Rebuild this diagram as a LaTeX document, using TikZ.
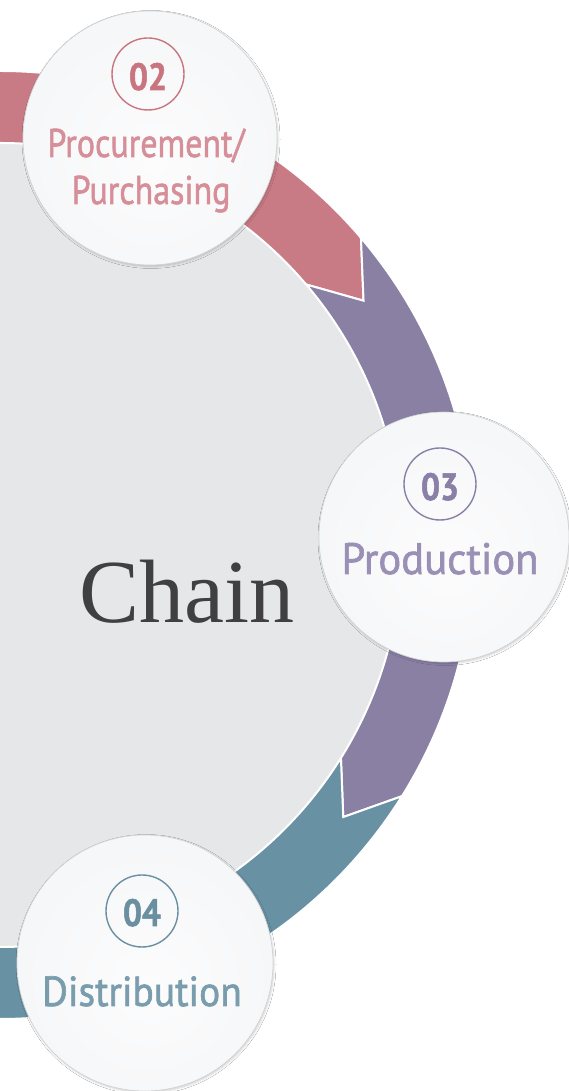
\documentclass[tikz,border=0pt]{standalone}
\usepackage{fontspec}
\usetikzlibrary{shadows.blur}
\newfontfamily\labelfont{PT Sans}[FakeBold=1.5]
\newfontfamily\hubfont{Liberation Serif}

\definecolor{ringred}{HTML}{C97B85}
\definecolor{ringpurple}{HTML}{8A80A4}
\definecolor{ringteal}{HTML}{6892A4}
\definecolor{txtred}{HTML}{D68F99}
\definecolor{numred}{HTML}{C9757F}
\definecolor{txtpurple}{HTML}{9A8FB5}
\definecolor{numpurple}{HTML}{8A7FA6}
\definecolor{txtteal}{HTML}{7A9DAE}
\definecolor{numteal}{HTML}{6A8FA0}
\definecolor{hub}{HTML}{E6E7E9}
\definecolor{hubtext}{HTML}{404042}
\definecolor{bcore}{HTML}{FCFCFD}
\definecolor{bmid}{HTML}{F5F6F7}
\definecolor{binner}{HTML}{EAEBEC}
\definecolor{bband}{HTML}{F6F6F7}
\definecolor{brim}{HTML}{D2D3D5}

% glossy disc: bright core, darker inner ring, light band, grey rim
\pgfdeclareradialshading{bubbleshade}{\pgfpoint{1bp}{-5bp}}{%
  color(0bp)=(bcore);
  color(30bp)=(bmid);
  color(42bp)=(binner);
  color(46bp)=(bband);
  color(50bp)=(bband);
  color(52bp)=(brim)}

\tikzset{
  segment/.style={fill=#1, draw=white, line width=2pt, line join=miter},
  bubble/.style={circle, minimum size=#1, inner sep=0pt, shading=bubbleshade,
    draw=brim, line width=0.7pt,
    blur shadow={shadow xshift=1pt, shadow yshift=-1.5pt,
      shadow blur radius=2pt, shadow opacity=18}},
  numring/.style={circle, draw=#1, line width=1.4pt, minimum size=72pt, inner sep=0pt},
  numtext/.style={anchor=base, text=#1, font=\labelfont\bfseries\fontsize{38}{38}\selectfont,
    xscale=0.88, transform shape},
  steplabel/.style={anchor=base, text=#1, transform shape},
}

\begin{document}
\begin{tikzpicture}[x=1pt,y=1pt]
  \useasboundingbox (0,0) rectangle (569,1091);
  \clip (0,0) rectangle (569,1091);
  \fill[white] (0,0) rectangle (569,1091);

  % central hub
  \node[circle, fill=hub, minimum size=804pt, inner sep=0pt] (hub) at (0,546) {};

  % arrow ring around the hub
  \begin{scope}[shift={(0,546)}]
    \def\ri{402}\def\ro{474}\def\rm{438}
    \path[segment=ringred]
      (95:\ro) arc[start angle=95, end angle=40.4, radius=\ro]
      -- (33.9:\rm) -- (40.4:\ri)
      arc[start angle=40.4, end angle=95, radius=\ri] -- cycle;
    \path[segment=ringpurple]
      (40.4:\ro) arc[start angle=40.4, end angle=-32, radius=\ro]
      -- (-38.4:\rm) -- (-32:\ri)
      arc[start angle=-32, end angle=40.4, radius=\ri]
      -- (33.9:\rm) -- cycle;
    \path[segment=ringteal]
      (-32:\ro) arc[start angle=-32, end angle=-95, radius=\ro]
      -- (-95:\ri)
      arc[start angle=-95, end angle=-32, radius=\ri]
      -- (-38.4:\rm) -- cycle;
  \end{scope}

  \node[anchor=base, text=hubtext, font=\hubfont\fontsize{90}{90}\selectfont] (chain) at (186.5,468) {Chain};

  % step 02
  \node[bubble=254pt] (b2) at (150,953) {};
  \node[numring=numred] (n2) at (148,1017) {};
  \node[numtext=numred] (t2) at (148,1001) {02};
  \node[steplabel=txtred, xscale=0.85, font=\labelfont\fontsize{40}{40}\selectfont] (l2a) at (146,934) {Procurement/};
  \node[steplabel=txtred, xscale=0.85, font=\labelfont\fontsize{40}{40}\selectfont] (l2b) at (151,887) {Purchasing};

  % step 03
  \node[bubble=250pt] (b3) at (444,554) {};
  \node[numring=numpurple] (n3) at (440,607) {};
  \node[numtext=numpurple] (t3) at (440,591) {03};
  \node[steplabel=txtpurple, xscale=0.97, font=\labelfont\fontsize{44}{44}\selectfont] (l3) at (440,517) {Production};

  % step 04
  \node[bubble=256pt] (b4) at (145,128) {};
  \node[numring=numteal] (n4) at (142,180) {};
  \node[numtext=numteal] (t4) at (142,165) {04};
  \node[steplabel=txtteal, xscale=0.94, font=\labelfont\fontsize{42}{42}\selectfont] (l4) at (142,85) {Distribution};
\end{tikzpicture}
\end{document}
